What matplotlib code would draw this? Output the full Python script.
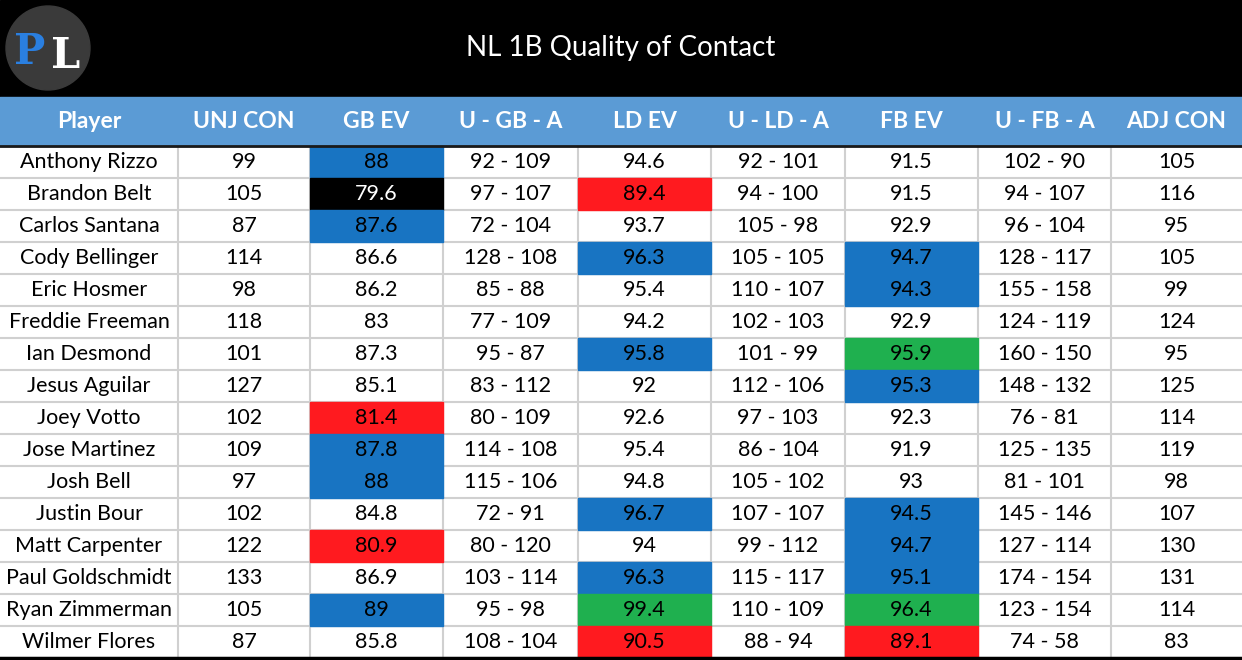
import matplotlib.pyplot as plt
from matplotlib.patches import Rectangle, Circle

plt.rcParams['font.family'] = ['Lato', 'DejaVu Sans']

title = "NL 1B Quality of Contact"
columns = ["Player", "UNJ CON", "GB EV", "U - GB - A", "LD EV", "U - LD - A",
           "FB EV", "U - FB - A", "ADJ CON"]
players = ["Anthony Rizzo", "Brandon Belt", "Carlos Santana", "Cody Bellinger",
           "Eric Hosmer", "Freddie Freeman", "Ian Desmond", "Jesus Aguilar",
           "Joey Votto", "Jose Martinez", "Josh Bell", "Justin Bour",
           "Matt Carpenter", "Paul Goldschmidt", "Ryan Zimmerman", "Wilmer Flores"]
unj_con = ["99", "105", "87", "114", "98", "118", "101", "127", "102", "109",
           "97", "102", "122", "133", "105", "87"]
gb_ev = ["88", "79.6", "87.6", "86.6", "86.2", "83", "87.3", "85.1", "81.4",
         "87.8", "88", "84.8", "80.9", "86.9", "89", "85.8"]
u_gb_a = ["92 - 109", "97 - 107", "72 - 104", "128 - 108", "85 - 88", "77 - 109",
          "95 - 87", "83 - 112", "80 - 109", "114 - 108", "115 - 106", "72 - 91",
          "80 - 120", "103 - 114", "95 - 98", "108 - 104"]
ld_ev = ["94.6", "89.4", "93.7", "96.3", "95.4", "94.2", "95.8", "92", "92.6",
         "95.4", "94.8", "96.7", "94", "96.3", "99.4", "90.5"]
u_ld_a = ["92 - 101", "94 - 100", "105 - 98", "105 - 105", "110 - 107", "102 - 103",
          "101 - 99", "112 - 106", "97 - 103", "86 - 104", "105 - 102", "107 - 107",
          "99 - 112", "115 - 117", "110 - 109", "88 - 94"]
fb_ev = ["91.5", "91.5", "92.9", "94.7", "94.3", "92.9", "95.9", "95.3", "92.3",
         "91.9", "93", "94.5", "94.7", "95.1", "96.4", "89.1"]
u_fb_a = ["102 - 90", "94 - 107", "96 - 104", "128 - 117", "155 - 158", "124 - 119",
          "160 - 150", "148 - 132", "76 - 81", "125 - 135", "81 - 101", "145 - 146",
          "127 - 114", "174 - 154", "123 - 154", "74 - 58"]
adj_con = ["105", "116", "95", "105", "99", "124", "95", "125", "114", "119",
           "98", "107", "130", "131", "114", "83"]

# highlight codes per row: b=blue r=red g=green k=black
gb_hl = ["b", "k", "b", "", "", "", "", "", "r", "b", "b", "", "r", "", "b", ""]
ld_hl = ["", "r", "", "b", "", "", "b", "", "", "", "", "b", "", "b", "g", "r"]
fb_hl = ["", "", "", "b", "b", "", "g", "b", "", "", "", "b", "b", "b", "g", "r"]

fills = {"b": "#1874C2", "r": "#FF1A1F", "g": "#1FB04F", "k": "#000000"}

col_edges = [0, 178, 310, 443, 578, 711, 845, 978, 1111, 1242]
row_top = 146
row_h = 32
W, H = 1242, 660

fig = plt.figure(figsize=(W / 100, H / 100), dpi=100)
ax = fig.add_axes([0, 0, 1, 1])
ax.set_xlim(0, W)
ax.set_ylim(H, 0)
ax.axis("off")

# title band
ax.add_patch(Rectangle((0, 0), W, 96, color="black"))
ax.text(W / 2, 48, title, color="white", fontsize=20, ha="center", va="center")
ax.add_patch(Circle((48, 48), 42, color="#3a3a3a"))
ax.text(30, 52, "P", color="#2a7fe0", fontsize=30, fontweight="bold",
        ha="center", va="center", family="DejaVu Serif")
ax.text(66, 56, "L", color="white", fontsize=30, fontweight="bold",
        ha="center", va="center", family="DejaVu Serif")

# header row
ax.add_patch(Rectangle((0, 97), W, row_top - 97, color="#5B9BD5"))
ax.plot([0, W], [row_top, row_top], color="#1a1a1a", lw=2)
for i, c in enumerate(columns):
    xc = (col_edges[i] + col_edges[i + 1]) / 2
    ax.text(xc, 122, c, color="white", fontsize=16.5, fontweight="bold",
            ha="center", va="center")

data_cols = [players, unj_con, gb_ev, u_gb_a, ld_ev, u_ld_a, fb_ev, u_fb_a, adj_con]
hl_cols = {2: gb_hl, 4: ld_hl, 6: fb_hl}

for r in range(len(players)):
    y0 = row_top + r * row_h
    for ci, col in enumerate(data_cols):
        x0, x1 = col_edges[ci], col_edges[ci + 1]
        code = hl_cols.get(ci, [""] * len(players))[r]
        tc = "black"
        if code:
            ax.add_patch(Rectangle((x0, y0), x1 - x0, row_h, color=fills[code]))
            if code == "k":
                tc = "white"
        ax.text((x0 + x1) / 2, y0 + row_h / 2, col[r], color=tc, fontsize=15.5,
                ha="center", va="center")
    ax.plot([0, W], [y0 + row_h, y0 + row_h], color="#d0d0d0", lw=1.5, zorder=0)

bottom = row_top + len(players) * row_h
for x in col_edges[1:-1]:
    ax.plot([x, x], [row_top, bottom], color="#d0d0d0", lw=1.5, zorder=0)
ax.plot([0, W], [bottom, bottom], color="black", lw=2.5)

fig.savefig("out.png", dpi=100)
